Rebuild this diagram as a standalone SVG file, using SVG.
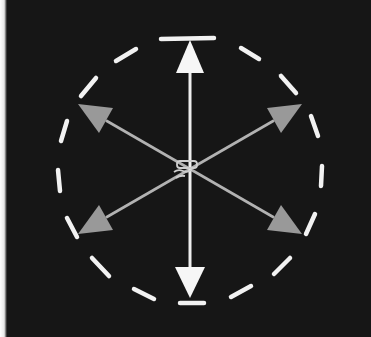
<svg xmlns="http://www.w3.org/2000/svg" width="371" height="337" viewBox="0 0 371 337">
  <defs>
    <style>
      .dash{stroke:#f2f2f2;stroke-width:4.5;stroke-linecap:round;fill:none}
      .vshaft{stroke:#eeeeee;stroke-width:3;fill:none}
      .vhead{fill:#f6f6f6}
      .dshaft{stroke:#b2b2b2;stroke-width:2.6;fill:none}
      .dhead{fill:#999999}
      .hub{stroke:#cfcfcf;stroke-width:1.8;fill:none}
    </style>
    <linearGradient id="edge" x1="0" y1="0" x2="1" y2="0">
      <stop offset="0" stop-color="#ffffff"/>
      <stop offset="0.6" stop-color="#e8e8e8"/>
      <stop offset="1" stop-color="#151515"/>
    </linearGradient>
  </defs>
  <rect x="0" y="0" width="371" height="337" fill="#161616"/>
  <rect x="0" y="0" width="7" height="337" fill="url(#edge)"/>

  <g id="dashed-circle">
    <line class="dash" x1="161" y1="39" x2="214" y2="38"/>
    <line class="dash" x1="116" y1="61" x2="136" y2="49"/>
    <line class="dash" x1="241" y1="48" x2="259" y2="59"/>
    <line class="dash" x1="81" y1="96" x2="96" y2="78"/>
    <line class="dash" x1="281" y1="76" x2="296" y2="93"/>
    <line class="dash" x1="61" y1="141" x2="67" y2="121"/>
    <line class="dash" x1="311" y1="116" x2="318" y2="136"/>
    <line class="dash" x1="58" y1="170" x2="60" y2="191"/>
    <line class="dash" x1="322" y1="166" x2="321" y2="186"/>
    <line class="dash" x1="67" y1="218" x2="77" y2="237"/>
    <line class="dash" x1="315" y1="214" x2="306" y2="234"/>
    <line class="dash" x1="92" y1="258" x2="109" y2="276"/>
    <line class="dash" x1="290" y1="258" x2="274" y2="274"/>
    <line class="dash" x1="134" y1="289" x2="154" y2="299"/>
    <line class="dash" x1="231" y1="297" x2="251" y2="286"/>
    <line class="dash" x1="180" y1="303" x2="204" y2="303"/>
  </g>

  <g id="connectors">
    <line class="dshaft" x1="190" y1="169" x2="106" y2="120.5"/>
    <line class="dshaft" x1="190" y1="169" x2="274" y2="120.5"/>
    <line class="dshaft" x1="190" y1="169" x2="106" y2="217.5"/>
    <line class="dshaft" x1="190" y1="169" x2="274" y2="217.5"/>
    <line class="vshaft" x1="190" y1="70" x2="190" y2="270"/>
  </g>

  <g id="arrow-up">
    <polygon class="vhead" points="190,40 204,73 176,73"/>
  </g>
  <g id="arrow-down">
    <polygon class="vhead" points="190,298 205,267 175,267"/>
  </g>
  <g id="arrow-upper-left">
    <polygon class="dhead" points="78,104 113,108 99,133"/>
  </g>
  <g id="arrow-upper-right">
    <polygon class="dhead" points="302,104 267,108 281,133"/>
  </g>
  <g id="arrow-lower-left">
    <polygon class="dhead" points="78,234 99,205 113,230"/>
  </g>
  <g id="arrow-lower-right">
    <polygon class="dhead" points="302,234 281,205 267,230"/>
  </g>

  <g id="hub">
    <rect class="hub" x="177" y="161" width="20" height="7" rx="3"/>
    <path class="hub" d="M174,172 q4,-3 9,-1 q4,2 8,-1" stroke="#999999"/>
    <path class="hub" d="M176,178 q4,-3 9,-2" stroke="#888888"/>
  </g>
</svg>
